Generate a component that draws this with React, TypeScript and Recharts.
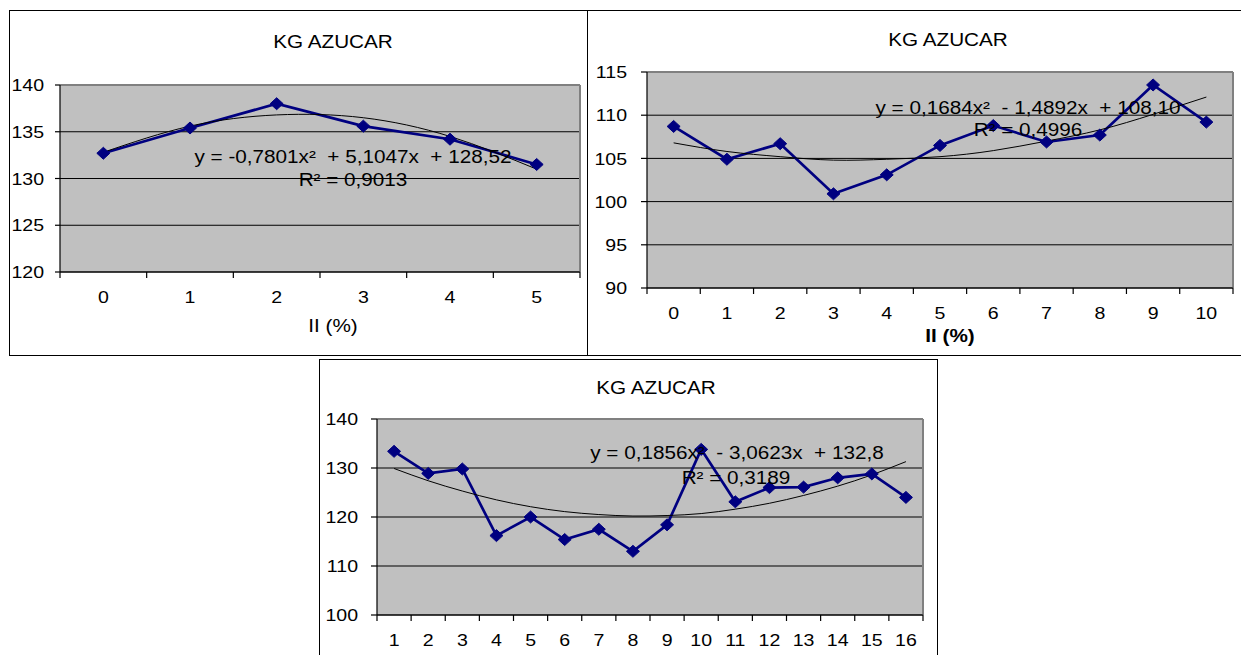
import React from 'react';
import { LineChart, Line, XAxis, YAxis, CartesianGrid, ReferenceLine } from 'recharts';

const FONT = '"Liberation Sans", Arial, sans-serif';
const SX = 1.15;

// Panel 1 (top left)
const cats1 = [0, 1, 2, 3, 4, 5];
const kg1 = [132.7, 135.4, 138.0, 135.6, 134.2, 131.5];
const trend1 = [132.8, 135.6, 136.8, 136.5, 134.5, 131.0];
const yTicks1 = [120, 125, 130, 135, 140];

// Panel 2 (top right)
const cats2 = [0, 1, 2, 3, 4, 5, 6, 7, 8, 9, 10];
const kg2 = [108.7, 104.9, 106.7, 100.9, 103.1, 106.5, 108.8, 106.9, 107.7, 113.5, 109.2];
const trend2 = [106.8, 105.8, 105.2, 104.8, 104.9, 105.2, 105.9, 107.0, 108.3, 110.1, 112.1];
const yTicks2 = [90, 95, 100, 105, 110, 115];

// Panel 3 (bottom)
const cats3 = [1, 2, 3, 4, 5, 6, 7, 8, 9, 10, 11, 12, 13, 14, 15, 16];
const kg3 = [133.4, 128.9, 129.8, 116.2, 120.0, 115.4, 117.5, 113.0, 118.4, 133.8, 123.1, 126.0, 126.1, 128.0, 128.8, 124.0];
const trend3 = [129.9, 127.4, 125.3, 123.5, 122.1, 121.1, 120.5, 120.2, 120.3, 120.7, 121.6, 122.8, 124.4, 126.3, 128.6, 131.3];
const yTicks3 = [100, 110, 120, 130, 140];

const title = 'KG AZUCAR';
const xTitle = 'II (%)';
const eq1 = 'y = -0,7801x²  + 5,1047x  + 128,52';
const r1 = 'R² = 0,9013';
const eq2 = 'y = 0,1684x²  - 1,4892x  + 108,10';
const r2 = 'R² = 0,4996';
const eq3 = 'y = 0,1856x²  - 3,0623x  + 132,8';
const r3 = 'R² = 0,3189';

const rows = (cats: number[], kg: number[], tr: number[]) =>
  cats.map((c, i) => ({ x: c, kg: kg[i], trend: tr[i] }));

const tickList = (cats: number[]) => {
  const out: number[] = [];
  cats.forEach((c) => {
    out.push(c - 0.5);
    out.push(c);
  });
  out.push(cats[cats.length - 1] + 0.5);
  return out;
};

const Diamond = (props: any) => {
  const { cx, cy, index } = props;
  if (cx == null || cy == null) return <g key={`e-${index}`} />;
  return (
    <polygon
      key={`d-${index}`}
      points={`${cx},${cy - 6} ${cx + 6.5},${cy} ${cx},${cy + 6} ${cx - 6.5},${cy}`}
      fill="#000080"
      stroke="#000080"
      strokeWidth={1}
    />
  );
};

const XTick = (props: any) => {
  const { x, y, payload } = props;
  const v = payload.value;
  if (!Number.isInteger(v)) {
    return <line x1={x} x2={x} y1={y} y2={y + 6} stroke="#000" strokeWidth={1.2} />;
  }
  return (
    <g transform={`translate(${x},${y + 25}) scale(${SX},1)`}>
      <text x={0} y={0} dy="0.36em" textAnchor="middle" fontSize={17} fontFamily={FONT} fill="#000">
        {v}
      </text>
    </g>
  );
};

const YTick = (props: any) => {
  const { x, y, payload } = props;
  return (
    <g transform={`translate(${x},${y}) scale(${SX},1)`}>
      <text x={0} y={0} dy="0.36em" textAnchor="end" fontSize={17} fontFamily={FONT} fill="#000">
        {payload.value}
      </text>
    </g>
  );
};

function Panel(p: {
  left: number; top: number; width: number; height: number;
  margin: { top: number; right: number; left: number; bottom: number };
  yWidth: number; cats: number[]; kg: number[]; trend: number[]; yTicks: number[];
  tickSize: number; tickMargin: number;
}) {
  const data = rows(p.cats, p.kg, p.trend);
  const lo = p.cats[0] - 0.5;
  const hi = p.cats[p.cats.length - 1] + 0.5;
  const yMin = p.yTicks[0];
  const yMax = p.yTicks[p.yTicks.length - 1];
  return (
    <div style={{ position: 'absolute', left: p.left, top: p.top }}>
      <LineChart width={p.width} height={p.height} data={data} margin={p.margin}>
        <CartesianGrid vertical={false} stroke="#000" strokeWidth={1} fill="#c0c0c0" fillOpacity={1} />
        <ReferenceLine y={yMax} stroke="#808080" strokeWidth={2} />
        <ReferenceLine x={hi} stroke="#808080" strokeWidth={2} />
        <XAxis
          dataKey="x"
          type="number"
          domain={[lo, hi]}
          ticks={tickList(p.cats)}
          interval={0}
          tickLine={false}
          tickSize={0}
          tickMargin={0}
          height={30}
          axisLine={{ stroke: '#000', strokeWidth: 1.2 }}
          tick={<XTick />}
        />
        <YAxis
          type="number"
          domain={[yMin, yMax]}
          ticks={p.yTicks}
          interval={0}
          width={p.yWidth}
          tickSize={p.tickSize}
          tickMargin={p.tickMargin}
          tickLine={{ stroke: '#000', strokeWidth: 1.2 }}
          axisLine={{ stroke: '#000', strokeWidth: 1.2 }}
          tick={<YTick />}
        />
        <Line dataKey="kg" type="linear" stroke="#000080" strokeWidth={2.7} dot={Diamond} activeDot={false} isAnimationActive={false} />
        <Line dataKey="trend" type="natural" stroke="#000" strokeWidth={1} dot={false} activeDot={false} isAnimationActive={false} />
      </LineChart>
    </div>
  );
}

function T(p: { cx: number; cy: number; size: number; bold?: boolean; children: React.ReactNode }) {
  return (
    <div
      style={{
        position: 'absolute',
        left: p.cx,
        top: p.cy,
        transform: `translate(-50%,-50%) scaleX(${SX})`,
        whiteSpace: 'pre',
        fontSize: p.size,
        lineHeight: 1,
        fontWeight: p.bold ? 'bold' : 'normal',
        fontFamily: FONT,
        color: '#000',
      }}
    >
      {p.children}
    </div>
  );
}

export default function App() {
  return (
    <div
      style={{
        position: 'absolute',
        left: 0,
        top: 0,
        width: 1241,
        height: 655,
        overflow: 'hidden',
        background: '#fff',
        fontFamily: FONT,
      }}
    >
      {/* panel borders */}
      <div style={{ position: 'absolute', left: 9, top: 10, width: 579, height: 346, border: '1.5px solid #000', boxSizing: 'border-box' }} />
      <div style={{ position: 'absolute', left: 587, top: 10, width: 670, height: 346, border: '1.5px solid #000', boxSizing: 'border-box' }} />
      <div style={{ position: 'absolute', left: 319, top: 359, width: 619, height: 320, border: '1.5px solid #000', boxSizing: 'border-box' }} />

      <Panel left={0} top={0} width={587} height={355} margin={{ top: 85, right: 7, left: 0, bottom: 53 }}
        yWidth={60} cats={cats1} kg={kg1} trend={trend1} yTicks={yTicks1} tickSize={5} tickMargin={11} />
      <Panel left={588} top={0} width={653} height={356} margin={{ top: 72, right: 8, left: 0, bottom: 38 }}
        yWidth={59} cats={cats2} kg={kg2} trend={trend2} yTicks={yTicks2} tickSize={6} tickMargin={14} />
      <Panel left={320} top={358} width={620} height={297} margin={{ top: 61, right: 17, left: 0, bottom: 10 }}
        yWidth={57} cats={cats3} kg={kg3} trend={trend3} yTicks={yTicks3} tickSize={6} tickMargin={13} />

      <T cx={333} cy={42} size={18}>{title}</T>
      <T cx={353} cy={157} size={18}>{eq1}</T>
      <T cx={353} cy={180} size={18}>{r1}</T>
      <T cx={333} cy={326} size={18}>{xTitle}</T>

      <T cx={948} cy={40} size={18}>{title}</T>
      <T cx={1028} cy={108} size={18}>{eq2}</T>
      <T cx={1028} cy={130} size={18}>{r2}</T>
      <T cx={950} cy={336} size={18} bold>{xTitle}</T>

      <T cx={656} cy={388} size={18}>{title}</T>
      <T cx={737} cy={453} size={18}>{eq3}</T>
      <T cx={736} cy={478} size={18}>{r3}</T>
    </div>
  );
}
